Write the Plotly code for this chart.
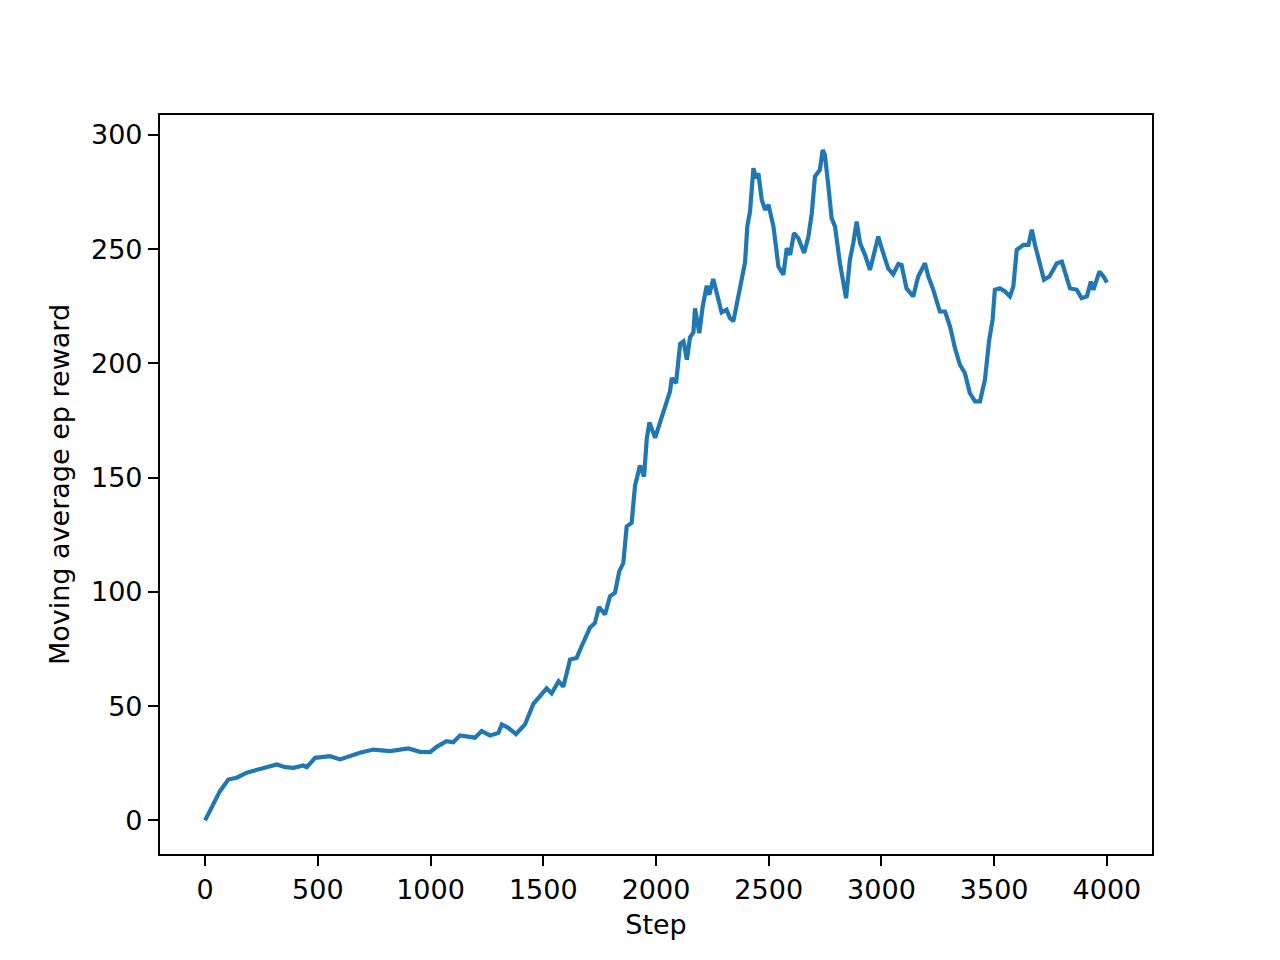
import plotly.graph_objects as go

steps = [0, 66, 103, 140, 185, 244, 318, 355, 392, 436, 451, 488, 554, 599, 687, 746,
         820, 902, 953, 998, 1027, 1071, 1101, 1131, 1197, 1227, 1264, 1301, 1316, 1345,
         1379, 1419, 1456, 1515, 1537, 1568, 1589, 1619, 1648, 1670, 1707, 1729, 1747,
         1774, 1796, 1818, 1837, 1855, 1870, 1892, 1907, 1929, 1947, 1959, 1971, 1996,
         2018, 2040, 2062, 2070, 2089, 2107, 2122, 2137, 2151, 2166, 2173, 2192, 2207,
         2225, 2236, 2254, 2291, 2313, 2328, 2343, 2358, 2376, 2395, 2405, 2417, 2432,
         2444, 2454, 2469, 2484, 2499, 2521, 2543, 2565, 2580, 2595, 2612, 2631, 2657,
         2676, 2691, 2705, 2727, 2739, 2749, 2764, 2779, 2794, 2816, 2843, 2860, 2875,
         2890, 2905, 2927, 2949, 2964, 2986, 3001, 3030, 3052, 3075, 3089, 3111, 3141,
         3163, 3193, 3208, 3230, 3259, 3282, 3304, 3326, 3348, 3370, 3392, 3415, 3437,
         3459, 3478, 3493, 3503, 3525, 3548, 3570, 3585, 3600, 3630, 3652, 3667, 3681,
         3703, 3721, 3745, 3763, 3778, 3800, 3815, 3836, 3866, 3888, 3911, 3929, 3940,
         3967, 3985, 4000]

reward = [0.0, 12.8, 17.9, 18.7, 20.9, 22.3, 24.5, 23.3, 23.0, 24.0, 23.3, 27.4, 28.1,
          26.7, 29.6, 31.0, 30.3, 31.5, 30.0, 29.9, 32.2, 34.7, 34.2, 37.2, 36.2, 39.1,
          37.2, 38.3, 42.0, 40.5, 37.8, 42.0, 51.0, 57.8, 55.6, 60.9, 58.5, 70.4, 71.1,
          76.2, 84.3, 86.4, 93.4, 90.1, 98.1, 99.6, 109.0, 112.7, 128.7, 130.2, 146.5,
          155.3, 150.5, 167.0, 174.2, 167.4, 173.9, 181.1, 187.7, 193.6, 191.4, 208.5,
          209.6, 201.6, 211.4, 213.6, 224.1, 213.2, 224.9, 234.0, 230.0, 236.9, 222.3,
          223.5, 219.8, 218.4, 226.4, 234.0, 244.2, 259.9, 266.5, 285.4, 281.0, 283.2,
          271.6, 267.2, 269.4, 259.9, 242.4, 238.8, 250.4, 247.5, 257.0, 254.8, 248.3,
          255.5, 265.7, 281.8, 284.7, 293.4, 291.3, 278.1, 263.5, 259.9, 243.8, 228.5,
          245.3, 252.6, 262.1, 252.6, 247.5, 240.9, 247.0, 255.5, 250.4, 241.5, 239.0,
          243.5, 243.1, 232.9, 229.3, 238.0, 243.8, 238.0, 232.2, 222.7, 222.7, 216.2,
          206.7, 199.4, 195.8, 187.0, 183.4, 183.4, 192.9, 210.3, 219.1, 232.2, 232.9,
          231.5, 229.3, 233.7, 249.7, 251.9, 251.9, 258.5, 251.9, 243.1, 236.6, 238.0,
          240.9, 243.8, 244.5, 240.2, 232.9, 232.2, 228.5, 229.3, 235.8, 232.2, 240.2,
          238.0, 235.4]

x_ticks = [0, 500, 1000, 1500, 2000, 2500, 3000, 3500, 4000]
y_ticks = [0, 50, 100, 150, 200, 250, 300]

fig = go.Figure(go.Scatter(x=steps, y=reward, mode="lines",
                           line=dict(color="#1f77b4", width=4.2),
                           hoverinfo="skip"))

axis_common = dict(showline=True, mirror=True, linecolor="black", linewidth=2.2,
                   ticks="outside", ticklen=10, tickwidth=2.2, tickcolor="black",
                   showgrid=False, zeroline=False,
                   tickfont=dict(family="DejaVu Sans", size=27, color="black"))

fig.update_layout(
    width=1280, height=960,
    margin=dict(l=152, r=136, t=107, b=114),
    paper_bgcolor="white", plot_bgcolor="white",
    showlegend=False,
    font=dict(family="DejaVu Sans", size=27, color="black"),
    xaxis=dict(range=[-200, 4200], tickvals=x_ticks, ticktext=[str(v) for v in x_ticks],
               title=dict(text="Step", standoff=12, font=dict(size=27, color="black")),
               **axis_common),
    yaxis=dict(range=[-14.7, 308.7], tickvals=y_ticks, ticktext=[str(v) for v in y_ticks],
               title=dict(text="Moving average ep reward", standoff=14,
                          font=dict(size=27, color="black")),
               **axis_common),
)

fig.write_html("out.html", config={"displayModeBar": False})
